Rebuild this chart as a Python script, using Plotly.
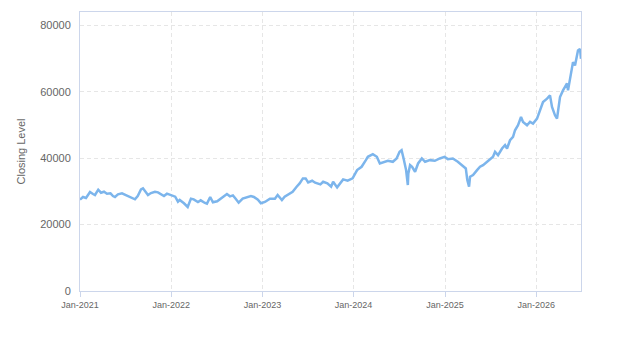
import plotly.graph_objects as go

dates = [
    "2021-01-01", "2021-01-13", "2021-01-25", "2021-02-10", "2021-02-22", "2021-03-02", "2021-03-15",
    "2021-03-26", "2021-04-07", "2021-04-19", "2021-05-03", "2021-05-13", "2021-05-21", "2021-06-02",
    "2021-06-18", "2021-06-30", "2021-07-12", "2021-07-23", "2021-08-09", "2021-08-20", "2021-09-02",
    "2021-09-10", "2021-09-22", "2021-09-30", "2021-10-12", "2021-10-28", "2021-11-09", "2021-11-22",
    "2021-12-03", "2021-12-15", "2021-12-27", "2022-01-07", "2022-01-17", "2022-01-28",
    "2022-02-04", "2022-02-21", "2022-03-08", "2022-03-21", "2022-04-01", "2022-04-18", "2022-04-29",
    "2022-05-16", "2022-05-24", "2022-06-06", "2022-06-17", "2022-07-04", "2022-07-19", "2022-08-01",
    "2022-08-12", "2022-08-24", "2022-09-05", "2022-09-16", "2022-09-28", "2022-10-14", "2022-10-31",
    "2022-11-16", "2022-11-28", "2022-12-14", "2022-12-26", "2023-01-11", "2023-01-31", "2023-02-20",
    "2023-03-03", "2023-03-20", "2023-03-31", "2023-04-20", "2023-05-02", "2023-05-18", "2023-05-30",
    "2023-06-12", "2023-06-23", "2023-07-03", "2023-07-19", "2023-07-31", "2023-08-21", "2023-09-01",
    "2023-09-18", "2023-10-03", "2023-10-11", "2023-10-27", "2023-11-08", "2023-11-20", "2023-12-08",
    "2023-12-28", "2024-01-15", "2024-02-02", "2024-02-19", "2024-02-27", "2024-03-18", "2024-04-03",
    "2024-04-15", "2024-05-01", "2024-05-17", "2024-06-06", "2024-06-21", "2024-07-03", "2024-07-11",
    "2024-07-19", "2024-07-29", "2024-08-05", "2024-08-07", "2024-08-14", "2024-08-22", "2024-09-03",
    "2024-09-15", "2024-09-30", "2024-10-13", "2024-11-01", "2024-11-21", "2024-12-11", "2024-12-30",
    "2025-01-12", "2025-02-01", "2025-02-21", "2025-03-09", "2025-03-17", "2025-03-25", "2025-03-31",
    "2025-04-07", "2025-04-11", "2025-04-23", "2025-05-09", "2025-05-21", "2025-06-02", "2025-06-18",
    "2025-06-30", "2025-07-12", "2025-07-20", "2025-08-01", "2025-08-17", "2025-08-29", "2025-09-06",
    "2025-09-18", "2025-09-30", "2025-10-08", "2025-10-20", "2025-11-01", "2025-11-09", "2025-11-25",
    "2025-12-07", "2025-12-19", "2026-01-04", "2026-01-16", "2026-01-28", "2026-02-13", "2026-02-25",
    "2026-03-05", "2026-03-17", "2026-03-25", "2026-04-06", "2026-04-18", "2026-05-04", "2026-05-08",
    "2026-05-16", "2026-05-24", "2026-05-28", "2026-06-05", "2026-06-13", "2026-06-17", "2026-06-25",
    "2026-06-29",
]

closing = [
    27500, 28300, 28000, 29800, 29200, 28900, 30500,
    29600, 29900, 29300, 29400, 28600, 28300, 29100,
    29400, 29000, 28500, 28200, 27600, 28600, 30600,
    30900, 29600, 28900, 29500, 29900, 29700, 29200,
    28600, 29300, 28900, 28500, 28400, 26900,
    27400, 26400, 25300, 27800, 27600, 26800, 27300,
    26500, 26300, 28300, 26700, 27000, 27900, 28600,
    29200, 28500, 28800, 27800, 26600, 27800, 28300,
    28600, 28300, 27500, 26400, 26800, 27800, 27800,
    28900, 27400, 28400, 29200, 29900, 31400, 32400,
    33900, 33900, 32700, 33200, 32600, 32100, 32900,
    32400, 31400, 32900, 31200, 32600, 33600, 33200,
    33900, 36400, 37400, 39400, 40400, 41200, 40400,
    38400, 38900, 39200, 38900, 39900, 41900, 42400,
    39900, 36400, 31900, 35400, 37900, 37400, 35900,
    38400, 39900, 38900, 39400, 39200, 39900, 40400,
    39700, 39900, 38900, 37900, 37400, 36900, 33400,
    31400, 34400, 34900, 36400, 37400, 37900, 38900,
    39900, 40400, 41900, 40900, 42900, 43900, 42900,
    45400, 46400, 48400, 49900, 52400, 50900, 49900,
    50900, 50400, 51900, 54400, 56900, 57900, 58900,
    55400, 52900, 51900, 58400, 60400, 62500, 60400,
    64400, 67400, 68900, 67900, 70400, 72400, 72900,
    69900,
]

y_ticks = [0, 20000, 40000, 60000, 80000]
x_ticks = ["2021-01-01", "2022-01-01", "2023-01-01", "2024-01-01", "2025-01-01", "2026-01-01"]
y_title = "Closing Level"

FONT = "Liberation Sans, Arial, sans-serif"

fig = go.Figure()
fig.add_trace(go.Scatter(
    x=dates, y=closing, mode="lines",
    line=dict(color="#7cb5ec", width=2.5),
    showlegend=False, hoverinfo="skip",
))

fig.update_layout(
    width=623, height=350,
    margin=dict(l=80, r=42, t=12, b=59),
    paper_bgcolor="white", plot_bgcolor="white",
    font=dict(family=FONT, color="#666666"),
)

fig.update_xaxes(
    range=[dates[0], dates[-1]],
    tickvals=x_ticks, tickformat="%b-%Y",
    tickfont=dict(size=9, color="#666666"),
    showgrid=True, gridcolor="#e6e6e6", griddash="4px,3px", gridwidth=1,
    showline=True, linecolor="#ccd6eb", linewidth=1, mirror=True,
    ticks="outside", ticklen=5, tickcolor="#ccd6eb",
    zeroline=False,
)

fig.update_yaxes(
    range=[0, 84000],
    tickvals=y_ticks, tickformat="d",
    tickfont=dict(size=11, color="#666666"),
    showgrid=True, gridcolor="#e6e6e6", griddash="4px,3px", gridwidth=1,
    showline=True, linecolor="#ccd6eb", linewidth=1, mirror=True,
    ticks="", ticklabelstandoff=6,
    zeroline=False,
    title=dict(text=y_title, font=dict(size=11, color="#666666"), standoff=12),
)

fig.write_html("out.html")
